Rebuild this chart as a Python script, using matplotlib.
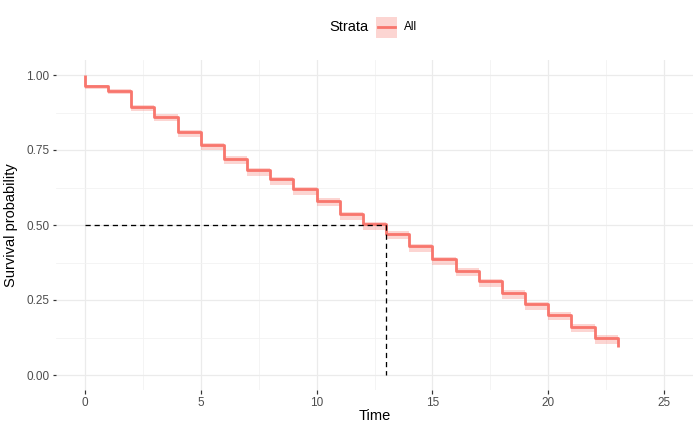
import matplotlib
matplotlib.use("Agg")
import matplotlib.pyplot as plt
from matplotlib.patches import Rectangle
from matplotlib.lines import Line2D

plt.rcParams['font.family'] = ['Liberation Sans', 'DejaVu Sans']

# data
times = [0, 1, 2, 3, 4, 5, 6, 7, 8, 9, 10, 11, 12, 13, 14, 15, 16, 17, 18, 19, 20, 21, 22, 23]
surv = [0.963, 0.947, 0.894, 0.861, 0.809, 0.767, 0.721, 0.683, 0.652, 0.619, 0.581,
        0.536, 0.503, 0.471, 0.430, 0.387, 0.348, 0.313, 0.274, 0.237, 0.201, 0.161,
        0.124, 0.093]
upper = [0.968, 0.953, 0.901, 0.869, 0.817, 0.775, 0.729, 0.691, 0.660, 0.627, 0.589,
         0.544, 0.511, 0.479, 0.438, 0.395, 0.356, 0.321, 0.282, 0.245, 0.209, 0.169,
         0.132, 0.093]
lower = [0.955, 0.936, 0.880, 0.846, 0.793, 0.750, 0.703, 0.665, 0.634, 0.600, 0.562,
         0.517, 0.484, 0.452, 0.411, 0.368, 0.329, 0.294, 0.255, 0.218, 0.182, 0.142,
         0.105, 0.093]
median_time = 13
median_surv = 0.5
x_ticks = [0, 5, 10, 15, 20, 25]
y_ticks = [0.00, 0.25, 0.50, 0.75, 1.00]
y_tick_labels = ["0.00", "0.25", "0.50", "0.75", "1.00"]
strata_label = "All"

col = "#F8766D"
W, H = 700, 432
DPI = 96
PX = 72 / DPI  # points per pixel
fig = plt.figure(figsize=(W / DPI, H / DPI), dpi=DPI)
ax = fig.add_axes([56 / W, 1 - 390 / H, (693 - 56) / W, (390 - 60) / H])

# grid
for v in x_ticks:
    ax.axvline(v, color="#EBEBEB", lw=1.2 * PX, zorder=0)
for v in [2.5, 7.5, 12.5, 17.5, 22.5]:
    ax.axvline(v, color="#F2F2F2", lw=0.8 * PX, zorder=0)
for v in y_ticks:
    ax.axhline(v, color="#EBEBEB", lw=1.2 * PX, zorder=0)
for v in [0.125, 0.375, 0.625, 0.875]:
    ax.axhline(v, color="#F2F2F2", lw=0.8 * PX, zorder=0)

xs = [0] + times
ys = [1.0] + surv
ax.fill_between(times, lower, upper, step="post", color=col, alpha=0.3, lw=0, zorder=2)
ax.step(xs, ys, where="post", color=col, lw=2.8 * PX, zorder=3, solid_capstyle="butt")

ax.plot([0, median_time], [median_surv, median_surv], color="black", lw=1.3 * PX,
        dashes=(4, 3), zorder=4)
ax.plot([median_time, median_time], [median_surv, 0], color="black", lw=1.3 * PX,
        dashes=(4, 3), zorder=4)

ax.set_xlim(-1.25, 26.25)
ax.set_ylim(-0.05, 1.05)
ax.set_xticks(x_ticks)
ax.set_xticklabels([str(v) for v in x_ticks])
ax.set_yticks(y_ticks)
ax.set_yticklabels(y_tick_labels)
for s in ax.spines.values():
    s.set_visible(False)
ax.tick_params(axis="both", length=3.5 * PX, width=1.2 * PX, color="#333333",
               labelcolor="#4D4D4D", labelsize=8.8, pad=2.5 * PX * 1.2)

fig.text(374.5 / W, 1 - 416 / H, "Time", fontsize=11, ha="center", va="center")
fig.text(11 / W, 1 - 225 / H, "Survival probability", fontsize=11, ha="center",
         va="center", rotation=90)

# legend
fig.text(329 / W, 1 - 27 / H, "Strata", fontsize=11, ha="left", va="center")
fig.patches.append(Rectangle((376 / W, 1 - 38 / H), 21 / W, 21 / H,
                             transform=fig.transFigure, facecolor=col, alpha=0.3,
                             edgecolor="none"))
fig.lines.append(Line2D([378 / W, 395 / W], [1 - 27 / H, 1 - 27 / H],
                        transform=fig.transFigure, color=col, lw=2.8 * PX))
fig.text(404 / W, 1 - 27 / H, strata_label, fontsize=8.8, ha="left", va="center")

fig.savefig("out.png", dpi=DPI, facecolor="white")
